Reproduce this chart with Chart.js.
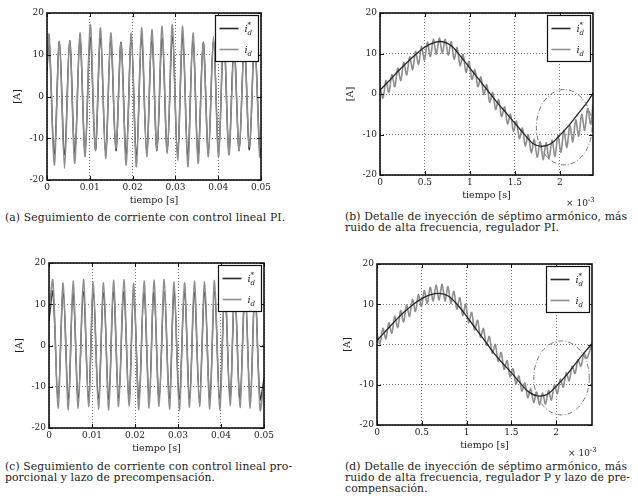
<!DOCTYPE html>
<html>
<head>
<meta charset="utf-8">
<script src="https://cdn.jsdelivr.net/npm/chart.js@4.4.1/dist/chart.umd.min.js"></script>
<style>
  body { margin:0; background:#fff; width:638px; height:500px; position:relative; overflow:hidden;
         font-family:'DejaVu Serif', 'Liberation Serif', serif; color:#222; }
  canvas { position:absolute; }
  .cap { position:absolute; font-size:10.8px; line-height:11px; white-space:nowrap; letter-spacing:0.1px; }
  .mult { position:absolute; font-size:9px; line-height:9px; }
  .mult sup { font-size:7px; line-height:0; }
</style>
</head>
<body>
<canvas id="ca"></canvas>
<canvas id="cb"></canvas>
<canvas id="cc"></canvas>
<canvas id="cd"></canvas>

<div class="cap" style="left:5px;top:212px">(a) Seguimiento de corriente con control lineal PI.</div>
<div class="cap" style="left:345px;top:211px">(b) Detalle de inyección de séptimo armónico, más<br>ruido de alta frecuencia, regulador PI.</div>
<div class="cap" style="left:5px;top:461px">(c) Seguimiento de corriente con control lineal pro-<br>porcional y lazo de precompensación.</div>
<div class="cap" style="left:345px;top:461px">(d) Detalle de inyección de séptimo armónico, más<br>ruido de alta frecuencia, regulador P y lazo de pre-<br>compensación.</div>
<div class="mult" style="left:566px;top:199px">× 10<sup>-3</sup></div>
<div class="mult" style="left:568px;top:449px">× 10<sup>-3</sup></div>

<script>
// ---- (a) PI control, 0..0.05 s: peaks and troughs of the current
const aTime = [0, 0.0005, 0.0017, 0.0029, 0.0041, 0.0053, 0.0065, 0.0077, 0.0089, 0.0101, 0.0113,
  0.0125, 0.0137, 0.0149, 0.0161, 0.0173, 0.0185, 0.0197, 0.0209, 0.0221, 0.0233, 0.0245, 0.0257,
  0.0269, 0.0281, 0.0293, 0.0305, 0.0317, 0.0329, 0.0341, 0.0353, 0.0365, 0.0377, 0.0389, 0.0401,
  0.0413, 0.0425, 0.0437, 0.0449, 0.0461, 0.0473, 0.0485, 0.0497, 0.05];
const aRef = [6, 13.5, -13.8, 13.2, -14, 13.4, -13.6, 13.8, -13.2, 14.2, -13, 14, -13.4, 13.6, -13,
  13, -14, 13.8, -14.2, 14, -13.4, 13.8, -13, 14.2, -13.2, 14.4, -13.8, 14.2, -14.2, 13.6, -14,
  13, -13.4, 13.6, -13.4, 14.4, -13.2, 12.6, -13, 12.8, -12.8, 13.2, -13.6, -12.5];
const aMeas = [7, 14.8, -16.4, 13.2, -17.2, 13.2, -16, 15.2, -14.4, 17.2, -12.8, 16.4, -14.8, 15.2, -12.4,
  12.8, -16.4, 15.2, -16.8, 16.4, -14.4, 16, -12.8, 16.8, -13.6, 17.2, -15.2, 16.8, -16.8, 15.2, -16,
  12.8, -14.4, 14.4, -14.4, 17.2, -14, 11, -12.8, 12.4, -12, 13.6, -14.4, -13];

// ---- (c) P control + precompensation, 0..0.05 s
const cTime = [0, 0.0009, 0.0021, 0.0033, 0.0045, 0.0056, 0.0068, 0.0080, 0.0092, 0.0103, 0.0115,
  0.0127, 0.0139, 0.0150, 0.0162, 0.0174, 0.0186, 0.0197, 0.0209, 0.0221, 0.0233, 0.0244, 0.0256,
  0.0268, 0.0280, 0.0291, 0.0303, 0.0315, 0.0327, 0.0338, 0.0350, 0.0362, 0.0374, 0.0385, 0.0397,
  0.0409, 0.0421, 0.0432, 0.0444, 0.0456, 0.0468, 0.0479, 0.0491, 0.05];
const cRef = [6, 13, -13, 13, -13.1, 12.9, -13, 13.1, -12.9, 13, -13, 12.9, -13.1, 13, -12.9, 13.1, -13,
  12.9, -13, 13, -12.9, 13, -13, 13.1, -13, 13, -13.1, 12.9, -13, 13, -12.9, 13, -13, 13.1, -13,
  13, -12.9, 12.9, -13, 13, -13.1, 13, -13, -8];
const cMeas = [8, 15.8, -15.2, 15.2, -15.6, 15.6, -15.2, 16, -14.8, 15.4, -15.4, 15.2, -15.6, 15.8, -14.8,
  16, -14.6, 15, -15.6, 15.6, -15.2, 15.8, -14.8, 16, -15.4, 15.4, -15.8, 15.2, -15, 15.6, -14.8,
  15.4, -15.4, 15.8, -15.6, 15.2, -14.6, 15, -15, 14.4, -15.2, 14.6, -15.6, -9];

// ---- detail views (b) and (d), time in ms (axis shown x 10^-3)
const rippleTime = [0, 0.033, 0.066, 0.099, 0.132, 0.165, 0.198, 0.231, 0.264, 0.297, 0.33, 0.363,
  0.396, 0.429, 0.462, 0.495, 0.528, 0.561, 0.594, 0.627, 0.66, 0.693, 0.726, 0.759, 0.792, 0.825,
  0.858, 0.891, 0.924, 0.957, 0.99, 1.023, 1.056, 1.089, 1.122, 1.155, 1.188, 1.221, 1.254, 1.287,
  1.32, 1.353, 1.386, 1.419, 1.452, 1.485, 1.518, 1.551, 1.584, 1.617, 1.65, 1.683, 1.716, 1.749,
  1.782, 1.815, 1.848, 1.881, 1.914, 1.947, 1.98, 2.013, 2.046, 2.079, 2.112, 2.145, 2.178, 2.211,
  2.244, 2.277, 2.31, 2.343];

const bRefTime = [0, 0.1, 0.2, 0.3, 0.4, 0.5, 0.6, 0.7, 0.8, 0.9, 1.0, 1.1, 1.2, 1.3, 1.4, 1.5, 1.6,
  1.7, 1.8, 1.9, 2.0, 2.1, 2.2, 2.3, 2.37];
const bRef = [1.0, 3.2, 5.6, 7.8, 9.8, 11.6, 12.7, 12.9, 11.8, 9.2, 6.4, 3.6, 0.8, -2.0, -4.6, -7.2,
  -9.8, -12.2, -12.9, -12.3, -10.2, -7.8, -5.0, -2.2, 0.2];
const bMeasTime = rippleTime.concat([2.37]);
const bMeas = [1.8, -1.0, 3.3, 0.4, 4.8, 1.8, 6.4, 3.3, 7.8, 4.7, 9.2, 6.0, 10.5, 7.3, 11.7, 8.4,
  12.8, 9.2, 13.5, 9.8, 13.8, 10.1, 13.5, 9.6, 12.9, 8.6, 11.5, 7.0, 9.8, 5.4, 8.0, 3.6, 6.0, 1.8,
  4.2, -0.1, 2.3, -2.0, 0.4, -3.8, -1.4, -5.6, -3.2, -7.4, -5.0, -9.2, -6.7, -11.0, -8.4, -12.8,
  -10.0, -14.5, -11.2, -15.6, -11.8, -16.2, -12.0, -16.0, -11.4, -15.4, -10.2, -14.4, -9.0, -13.2,
  -7.8, -11.8, -6.4, -10.4, -5.0, -9.0, -3.6, -7.4, -2.6];
const bEllipse = [2.05, -8.2, 0.31, 9.3];   // centre t, centre A, half-width, half-height

const dRefTime = [0, 0.1, 0.2, 0.3, 0.4, 0.5, 0.6, 0.7, 0.8, 0.9, 1.0, 1.1, 1.2, 1.3, 1.4, 1.5, 1.6,
  1.7, 1.8, 1.9, 2.0, 2.1, 2.2, 2.3, 2.4];
const dRef = [1.0, 3.4, 5.8, 8.0, 9.9, 11.4, 12.4, 12.7, 12.0, 9.8, 7.0, 4.0, 1.0, -2.0, -4.6, -7.0,
  -9.6, -11.9, -12.8, -12.4, -10.4, -8.0, -5.2, -2.4, 0.2];
const dMeasTime = rippleTime.concat([2.4]);
const dMeas = [2.6, 0.2, 4.0, 1.4, 5.4, 2.8, 7.0, 4.2, 8.4, 5.6, 9.8, 7.0, 11.2, 8.2, 12.4, 9.4,
  13.4, 10.2, 14.2, 10.8, 14.8, 11.0, 15.0, 10.8, 14.4, 10.2, 13.2, 8.8, 11.6, 7.2, 10.0, 5.4, 8.0,
  3.6, 6.0, 1.8, 4.0, -0.2, 2.0, -2.2, 0.0, -4.2, -2.0, -6.2, -4.0, -8.0, -6.0, -9.8, -7.8, -11.6,
  -9.6, -13.2, -11.0, -14.4, -11.8, -15.0, -12.0, -14.8, -11.4, -13.8, -10.0, -12.2, -8.6, -10.6,
  -7.0, -9.0, -5.4, -7.2, -3.8, -5.4, -2.2, -3.4, 0.2];
const dEllipse = [2.06, -8.3, 0.31, 9.2];

const yTicks = [-20, -10, 0, 10, 20];
const legendLabels = [['i', 'd', '*'], ['i', 'd', '']];

const SERIF = "'DejaVu Serif', 'Liberation Serif', serif";
const DARK = '#262626', GREY = '#8e8e8e';

const pts = (xs, ys) => xs.map((x, i) => ({ x: x, y: ys[i] }));

// matlab-like box: frame, inward ticks, dash-dot ellipse, legend
const boxPlugin = {
  id: 'box',
  afterDatasetsDraw(chart) {
    const el = chart.options.ellipse;
    if (!el) return;
    const { ctx, chartArea: a, scales: { x, y } } = chart;
    const cx = x.getPixelForValue(el[0]), cy = y.getPixelForValue(el[1]);
    const rx = Math.abs(x.getPixelForValue(el[0] + el[2]) - cx);
    const ry = Math.abs(y.getPixelForValue(el[1] + el[3]) - cy);
    ctx.save();
    ctx.beginPath();
    ctx.rect(a.left, a.top, a.right - a.left, a.bottom - a.top);
    ctx.clip();
    ctx.strokeStyle = '#777';
    ctx.lineWidth = 1;
    ctx.setLineDash([5, 2, 1, 2]);
    ctx.beginPath();
    ctx.ellipse(cx, cy, rx, ry, 0, 0, Math.PI * 2);
    ctx.stroke();
    ctx.restore();
  },
  afterDraw(chart) {
    const { ctx, chartArea: a, scales: { x, y } } = chart;
    ctx.save();
    ctx.strokeStyle = '#111';
    ctx.lineWidth = 1;
    ctx.beginPath();
    x.ticks.forEach(t => {
      const px = Math.round(x.getPixelForValue(t.value)) + 0.5;
      ctx.moveTo(px, a.bottom); ctx.lineTo(px, a.bottom - 4);
      ctx.moveTo(px, a.top); ctx.lineTo(px, a.top + 4);
    });
    y.ticks.forEach(t => {
      const py = Math.round(y.getPixelForValue(t.value)) + 0.5;
      ctx.moveTo(a.left, py); ctx.lineTo(a.left + 4, py);
      ctx.moveTo(a.right, py); ctx.lineTo(a.right - 4, py);
    });
    ctx.stroke();

    // legend
    const w = 43, h = 46;
    const lx = Math.round(a.right - 3 - w) + 0.5, ly = Math.round(a.top + 2) + 0.5;
    ctx.fillStyle = '#fff';
    ctx.fillRect(lx, ly, w, h);
    ctx.lineWidth = 1.2;
    ctx.strokeStyle = '#111';
    ctx.strokeRect(lx, ly, w, h);
    [DARK, GREY].forEach((c, i) => {
      const yy = ly + 13 + i * 21;
      ctx.strokeStyle = c;
      ctx.lineWidth = 1.6;
      ctx.beginPath();
      ctx.moveTo(lx + 4, yy); ctx.lineTo(lx + 23, yy);
      ctx.stroke();
      const lab = legendLabels[i];
      ctx.fillStyle = '#222';
      ctx.textBaseline = 'alphabetic';
      ctx.font = 'italic 10px ' + SERIF;
      ctx.fillText(lab[0], lx + 29, yy + 3);
      ctx.font = 'italic 7px ' + SERIF;
      ctx.fillText(lab[1], lx + 32, yy + 6);
      if (lab[2]) ctx.fillText(lab[2], lx + 32, yy - 2);
    });

    // frame
    ctx.strokeStyle = '#111';
    ctx.lineWidth = 1.6;
    ctx.strokeRect(a.left, a.top, a.right - a.left, a.bottom - a.top);
    ctx.restore();
  }
};

function makePanel(id, plot, xMax, xStep, ref, meas, refOnTop, ellipse) {
  const [L, T, R, B] = plot;
  const cv = document.getElementById(id);
  const padTop = 13, axW = 47, axH = 27, padR = 30;
  cv.width = R - L + axW + padR;
  cv.height = B - T + padTop + axH;
  cv.style.left = (L - axW) + 'px';
  cv.style.top = (T - padTop) + 'px';

  new Chart(cv, {
    type: 'line',
    data: {
      datasets: [
        { label: 'ref', data: ref, borderColor: DARK, borderWidth: 1.3, pointRadius: 0,
          tension: 0.35, order: refOnTop ? 0 : 1 },
        { label: 'meas', data: meas, borderColor: GREY, borderWidth: 1.6, pointRadius: 0,
          tension: 0.3, order: refOnTop ? 1 : 0 }
      ]
    },
    options: {
      responsive: false,
      animation: false,
      ellipse: ellipse,
      layout: { padding: { top: padTop, right: padR, left: 0, bottom: 0 } },
      plugins: { legend: { display: false }, tooltip: { enabled: false } },
      scales: {
        x: {
          type: 'linear', min: 0, max: xMax,
          afterFit: s => { s.height = axH; },
          afterBuildTicks: s => {
            s.ticks = s.ticks.filter(t => Math.abs(t.value / xStep - Math.round(t.value / xStep)) < 1e-6);
          },
          ticks: { stepSize: xStep, padding: 2, maxRotation: 0, autoSkip: false, includeBounds: false,
                   color: '#222', font: { family: SERIF, size: 9 },
                   callback: v => String(+(+v).toFixed(3)) },
          grid: { color: '#555', lineWidth: 0.8, drawTicks: false },
          border: { display: false, dash: [1, 2] },
          title: { display: true, text: 'tiempo [s]', color: '#222', padding: { top: 0, bottom: 1 },
                   font: { family: SERIF, size: 9.5 } }
        },
        y: {
          min: -20, max: 20,
          afterFit: s => { s.width = axW; },
          afterBuildTicks: s => { s.ticks = yTicks.map(v => ({ value: v })); },
          ticks: { padding: 3, autoSkip: false, color: '#222', font: { family: SERIF, size: 9 } },
          grid: { color: '#555', lineWidth: 0.8, drawTicks: false },
          border: { display: false, dash: [1, 2] },
          title: { display: true, text: '[A]', color: '#222', padding: { top: 12, bottom: 0 },
                   font: { family: SERIF, size: 9.5 } }
        }
      }
    },
    plugins: [boxPlugin]
  });
}

makePanel('ca', [47, 13, 261, 180], 0.05, 0.01, pts(aTime, aRef), pts(aTime, aMeas), false, null);
makePanel('cb', [380, 13, 593, 175], 2.37, 0.5, pts(bRefTime, bRef), pts(bMeasTime, bMeas), true, bEllipse);
makePanel('cc', [49, 263, 264, 428], 0.05, 0.01, pts(cTime, cRef), pts(cTime, cMeas), false, null);
makePanel('cd', [377, 264, 592, 425], 2.4, 0.5, pts(dRefTime, dRef), pts(dMeasTime, dMeas), true, dEllipse);
</script>
</body>
</html>
